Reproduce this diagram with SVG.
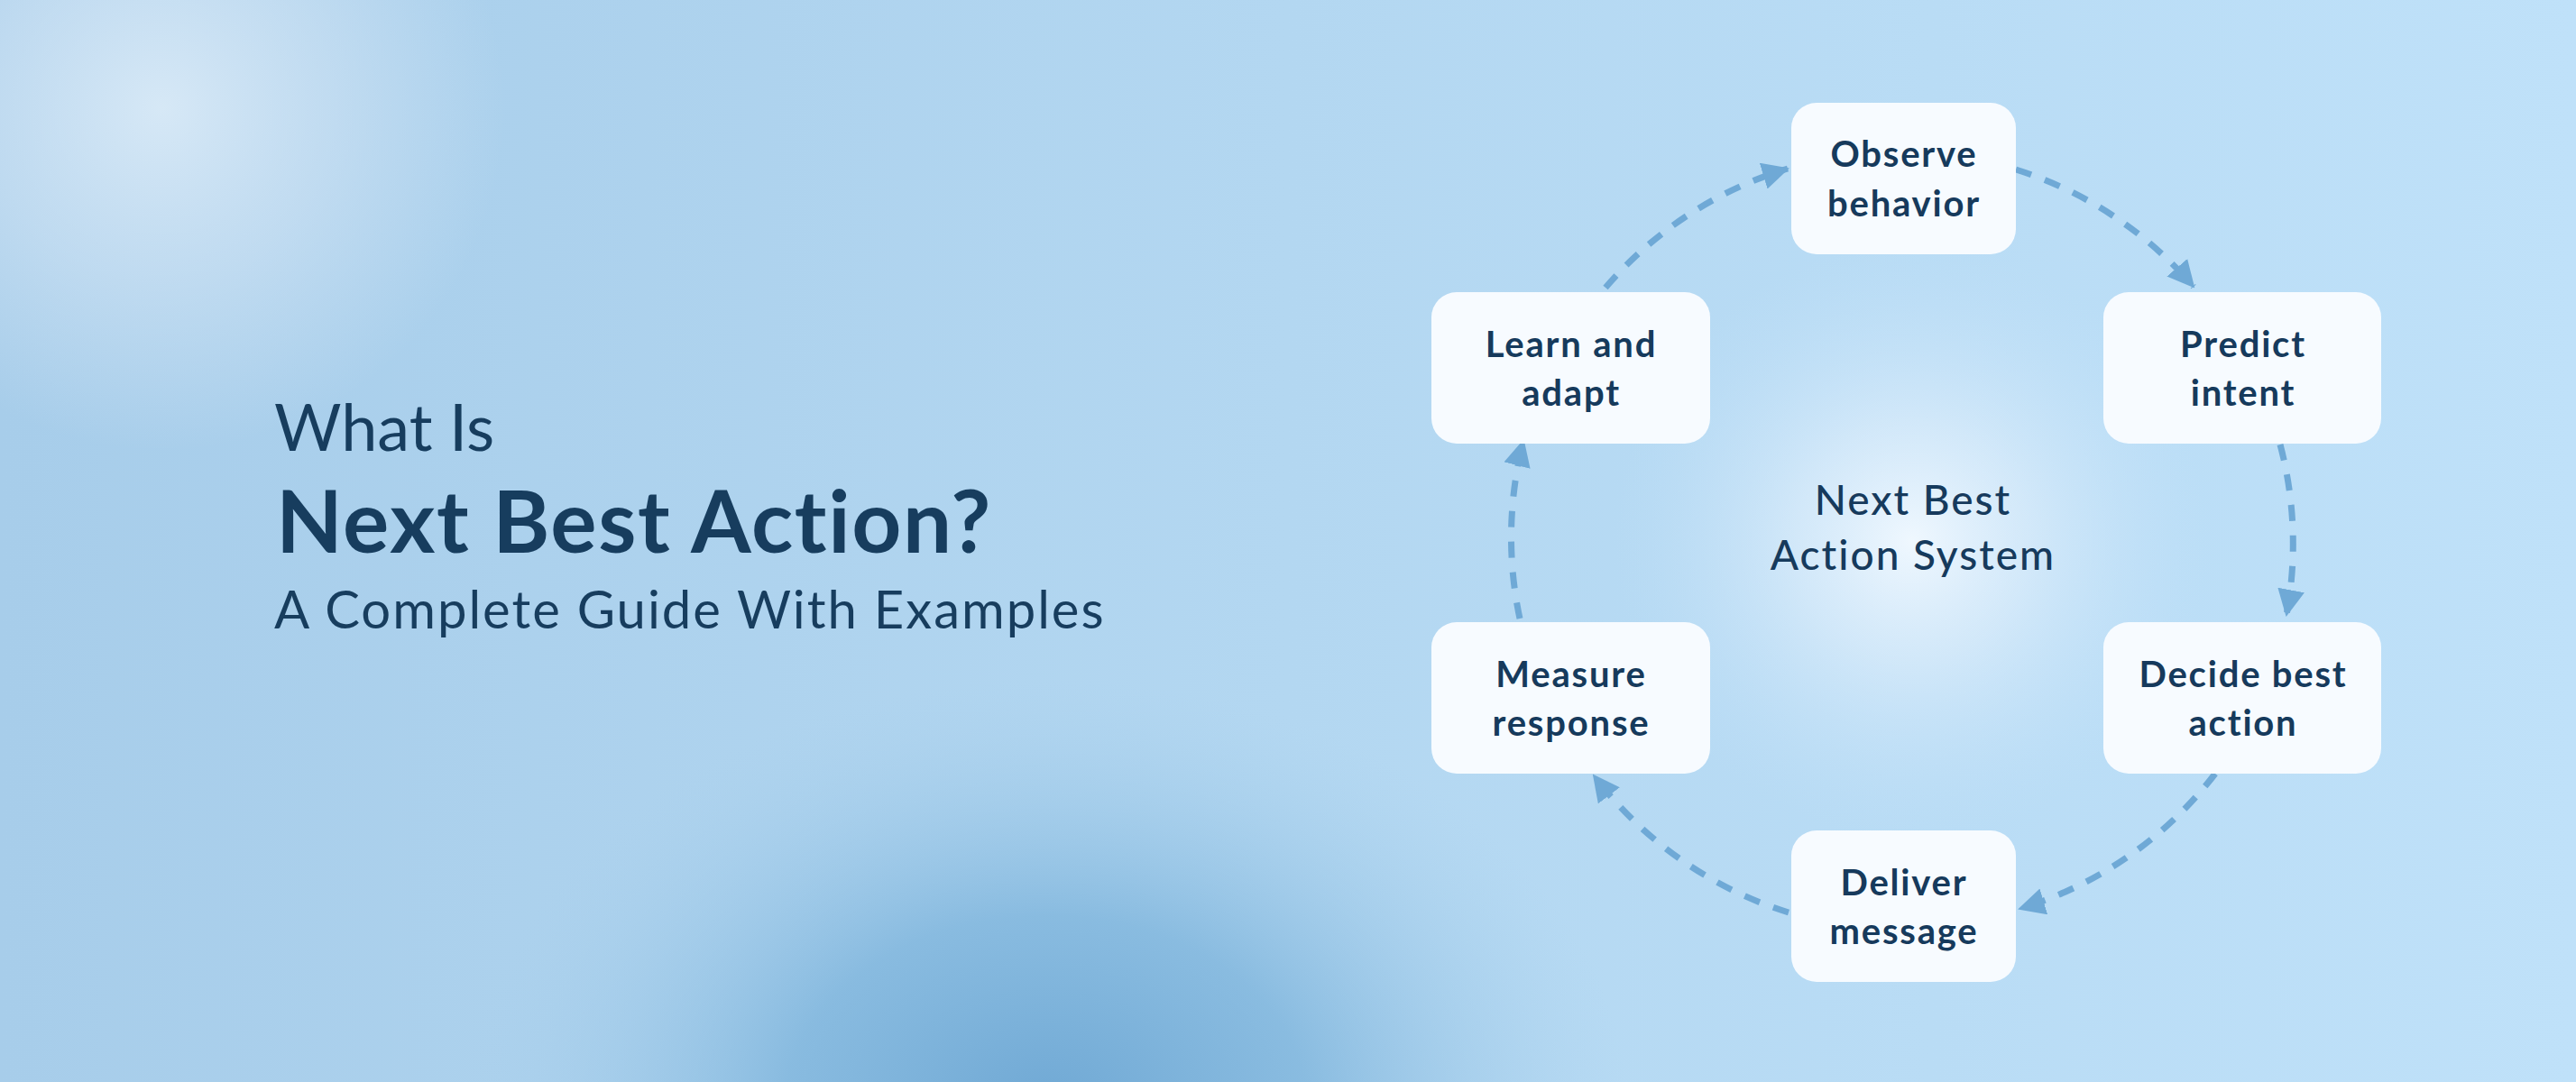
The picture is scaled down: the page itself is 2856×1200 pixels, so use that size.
<svg xmlns="http://www.w3.org/2000/svg" width="2856" height="1200" viewBox="0 0 2856 1200">
  <defs>
    <linearGradient id="bg" x1="0" y1="0" x2="1" y2="0">
      <stop offset="0" stop-color="#a7cdea"/>
      <stop offset="0.5" stop-color="#b3d7f1"/>
      <stop offset="1" stop-color="#bfe1f9"/>
    </linearGradient>
    <radialGradient id="glowTL" cx="180" cy="120" r="380" gradientUnits="userSpaceOnUse">
      <stop offset="0" stop-color="#d6e8f6" stop-opacity="1"/>
      <stop offset="0.5" stop-color="#cfe3f4" stop-opacity="0.6"/>
      <stop offset="1" stop-color="#cfe3f4" stop-opacity="0"/>
    </radialGradient>
    <radialGradient id="blobB" cx="1160" cy="1230" r="560" gradientUnits="userSpaceOnUse" gradientTransform="translate(1160 1230) scale(1.15 0.85) translate(-1160 -1230)">
      <stop offset="0" stop-color="#6fa8d4" stop-opacity="1"/>
      <stop offset="0.45" stop-color="#7fb5dc" stop-opacity="0.8"/>
      <stop offset="1" stop-color="#a9d0ec" stop-opacity="0"/>
    </radialGradient>
    <radialGradient id="glowC" cx="2120" cy="600" r="330" gradientUnits="userSpaceOnUse">
      <stop offset="0" stop-color="#f2f9ff" stop-opacity="0.95"/>
      <stop offset="0.4" stop-color="#e2f0fc" stop-opacity="0.6"/>
      <stop offset="1" stop-color="#c4e2f9" stop-opacity="0"/>
    </radialGradient>
    <marker id="arrow" viewBox="0 0 30 30" refX="28" refY="15" markerWidth="30" markerHeight="30" markerUnits="userSpaceOnUse" orient="auto">
      <path d="M0,0 L30,15 L0,30 z" fill="#6fa9d6"/>
    </marker>
    <style>
      .node rect { fill: #f7fbff; }
      .node text { font-family: Lato, "Noto Sans", sans-serif; font-weight: 700; font-size: 40px; letter-spacing: 1.8px; fill: #163a5c; text-anchor: middle; }
      .conn path { fill: none; stroke: #6fa9d6; stroke-width: 7; stroke-dasharray: 18 16; marker-end: url(#arrow); }
      .title { font-family: Lato, "Noto Sans", sans-serif; fill: #173d5e; }
      .center { font-family: Lato, "Noto Sans", sans-serif; font-weight: 500; font-size: 46px; letter-spacing: 2px; fill: #163a5c; text-anchor: middle; }
    </style>
  </defs>

  <rect width="2856" height="1200" fill="url(#bg)"/>
  <rect width="2856" height="1200" fill="url(#glowTL)"/>
  <rect width="2856" height="1200" fill="url(#blobB)"/>
  <rect width="2856" height="1200" fill="url(#glowC)"/>

  <g id="title">
    <text class="title" x="304" y="500" font-size="72" font-weight="400">What Is</text>
    <text class="title" x="306" y="613" font-size="96" font-weight="700" letter-spacing="1.6">Next Best Action?</text>
    <text class="title" x="304" y="697" font-size="58" font-weight="400" letter-spacing="2">A Complete Guide With Examples</text>
  </g>

  <g id="center-label">
    <text class="center" x="2121" y="571">Next Best</text>
    <text class="center" x="2121" y="632">Action System</text>
  </g>

  <g id="connectors" class="conn">
    <path d="M2235,188 A430,430 0 0 1 2432,318"/>
    <path d="M2528,493 A430,430 0 0 1 2535,682"/>
    <path d="M2456,858 A430,430 0 0 1 2239,1008"/>
    <path d="M1983,1012 A430,430 0 0 1 1767,860"/>
    <path d="M1685,686 A430,430 0 0 1 1689,489"/>
    <path d="M1780,319 A430,430 0 0 1 1982,187"/>
  </g>

  <g id="node-observe" class="node">
    <rect x="1986" y="114" width="249" height="168" rx="28"/>
    <text x="2111" y="185">Observe</text>
    <text x="2111" y="240">behavior</text>
  </g>
  <g id="node-predict" class="node">
    <rect x="2332" y="324" width="308" height="168" rx="28"/>
    <text x="2487" y="396">Predict</text>
    <text x="2487" y="450">intent</text>
  </g>
  <g id="node-decide" class="node">
    <rect x="2332" y="690" width="308" height="168" rx="28"/>
    <text x="2487" y="762">Decide best</text>
    <text x="2487" y="816">action</text>
  </g>
  <g id="node-deliver" class="node">
    <rect x="1986" y="921" width="249" height="168" rx="28"/>
    <text x="2111" y="993">Deliver</text>
    <text x="2111" y="1047">message</text>
  </g>
  <g id="node-measure" class="node">
    <rect x="1587" y="690" width="309" height="168" rx="28"/>
    <text x="1742" y="762">Measure</text>
    <text x="1742" y="816">response</text>
  </g>
  <g id="node-learn" class="node">
    <rect x="1587" y="324" width="309" height="168" rx="28"/>
    <text x="1742" y="396">Learn and</text>
    <text x="1742" y="450">adapt</text>
  </g>
</svg>
